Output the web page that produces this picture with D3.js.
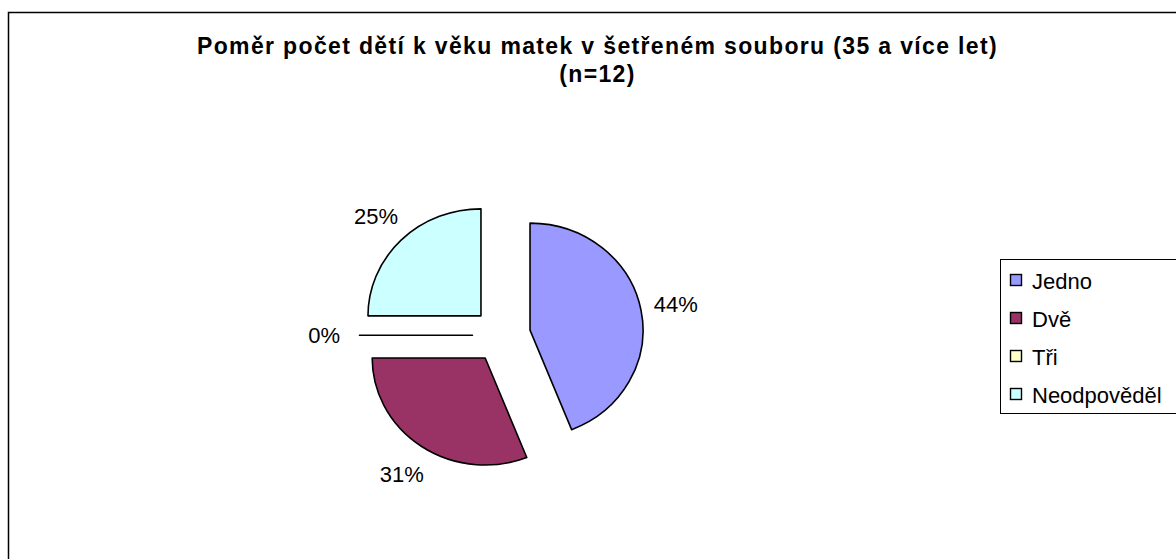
<!DOCTYPE html>
<html>
<head>
<meta charset="utf-8">
<script src="https://cdn.jsdelivr.net/npm/d3@7"></script>
<style>
  body { margin: 0; background: #fff; }
  svg { display: block; font-family: "Liberation Sans", Arial, sans-serif; }
</style>
</head>
<body>
<div id="piechart"></div>
<script>
// data
var categories = ["Jedno", "Dvě", "Tři", "Neodpověděl"];
var percentages = [44, 31, 0, 25];
var colors = ["#9999FF", "#993366", "#FFFFCC", "#CCFFFF"];
var titleLines = ["Poměr počet dětí k věku matek v šetřeném souboru (35 a více let)", "(n=12)"];

function init(){
    var w = 1176;
    var h = 559;

    var radius = 107;
    var explode = 27.5;
    var stretchX = 1.056;   // the source picture is a bit wider than tall
    var cx = 501.5, cy = 335.3;

    var data = categories.map(function(c, i){
        return { name: c, value: percentages[i] };
    });
    var total = d3.sum(percentages);

    var arc = d3.arc()
                .outerRadius(radius)
                .innerRadius(0);

    var labelArc = d3.arc()
                .outerRadius(168)
                .innerRadius(168);

    var pie = d3.pie()
                .sort(null)
                .value(function(d){ return d.value; });

    var color = d3.scaleOrdinal()
                .domain(categories)
                .range(colors);

    var svg = d3.select("#piechart")
                .append("svg")
                .attr("width", w)
                .attr("height", h);

    // chart area frame (runs off right and bottom)
    svg.append("rect")
        .attr("x", 8.5)
        .attr("y", 12.5)
        .attr("width", 1200)
        .attr("height", 600)
        .attr("fill", "white")
        .attr("stroke", "black")
        .attr("stroke-width", 1.5);

    // title
    svg.selectAll("text.title")
        .data(titleLines)
        .enter()
        .append("text")
        .attr("class", "title")
        .attr("x", 597.5)
        .attr("y", function(d, i){ return 54 + i * 28; })
        .attr("text-anchor", "middle")
        .style("font-size", "23px")
        .style("font-weight", "bold")
        .style("letter-spacing", "1.35px")
        .text(function(d){ return d; });

    var pieG = svg.append("g")
        .attr("transform", "translate(" + cx + "," + cy + ")");

    var arcs = pieG.selectAll("g.arc")
        .data(pie(data))
        .enter()
        .append("g")
        .attr("class", "arc")
        .attr("transform", function(d){
            var mid = (d.startAngle + d.endAngle) / 2;
            var dx = Math.sin(mid) * explode * stretchX;
            var dy = -Math.cos(mid) * explode;
            return "translate(" + dx + "," + dy + ") scale(" + stretchX + ",1)";
        });

    arcs.append("path")
        .attr("d", arc)
        .attr("fill", function(d){ return color(d.data.name); })
        .attr("stroke", "black")
        .attr("stroke-width", 1.6)
        .attr("stroke-linejoin", "round")
        .attr("vector-effect", "non-scaling-stroke");

    // value labels
    pieG.selectAll("text.lbl")
        .data(pie(data))
        .enter()
        .append("text")
        .attr("class", "lbl")
        .attr("transform", function(d){
            var c = labelArc.centroid(d);
            return "translate(" + (c[0] * stretchX) + "," + c[1] + ")";
        })
        .attr("text-anchor", "middle")
        .attr("dy", "0.36em")
        .style("font-size", "22px")
        .text(function(d){
            return Math.round(d.data.value / total * 100) + "%";
        });

    // legend
    var legend = svg.append("g")
        .attr("class", "legend");

    legend.append("rect")
        .attr("x", 1000.5)
        .attr("y", 259.5)
        .attr("width", 200)
        .attr("height", 154)
        .attr("fill", "white")
        .attr("stroke", "black")
        .attr("stroke-width", 1);

    var items = legend.selectAll("g.item")
        .data(categories)
        .enter()
        .append("g")
        .attr("class", "item")
        .attr("transform", function(d, i){ return "translate(0," + (289 + i * 38) + ")"; });

    items.append("rect")
        .attr("x", 1010.5)
        .attr("y", -14.5)
        .attr("width", 11)
        .attr("height", 11)
        .attr("fill", function(d){ return color(d); })
        .attr("stroke", "black")
        .attr("stroke-width", 1.4);

    items.append("text")
        .attr("x", 1032)
        .attr("y", 0)
        .style("font-size", "22px")
        .text(function(d){ return d; });
}

window.onload = init;
</script>
</body>
</html>
